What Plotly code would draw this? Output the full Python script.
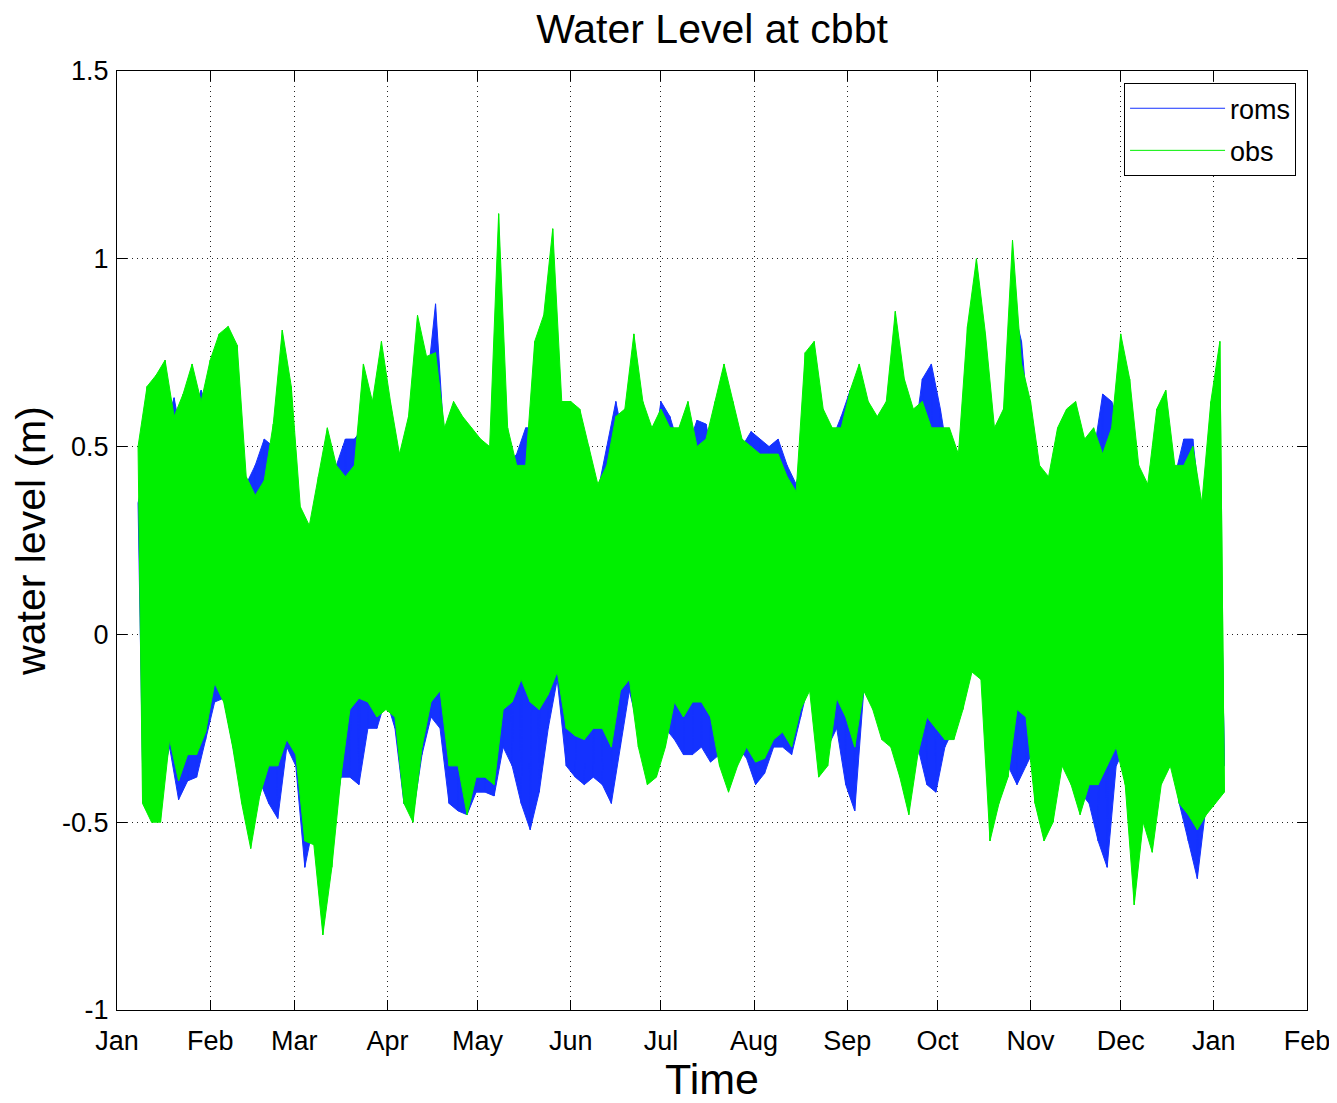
"""Water level at cbbt: model (roms) vs observations, 2010."""

import pandas as pd
import plotly.graph_objects as go

# envelope of the hourly signal, read every 3 days from 8 Jan 2010
start_date = "2010-01-08"
step_days = 3

obs_hi = [
    0.50, 0.66, 0.69, 0.73, 0.58, 0.64, 0.72, 0.62, 0.73, 0.80,
    0.82, 0.77, 0.42, 0.37, 0.41, 0.56, 0.81, 0.66, 0.34, 0.29,
    0.42, 0.55, 0.45, 0.42, 0.45, 0.72, 0.62, 0.78, 0.62, 0.48,
    0.58, 0.85, 0.74, 0.75, 0.55, 0.62, 0.58, 0.55, 0.52, 0.50,
    1.12, 0.55, 0.45, 0.45, 0.78, 0.85, 1.08, 0.62, 0.62, 0.60,
    0.50, 0.40, 0.45, 0.58, 0.60, 0.80, 0.62, 0.55, 0.60, 0.55,
    0.55, 0.62, 0.50, 0.52, 0.62, 0.72, 0.62, 0.52, 0.50, 0.48,
    0.48, 0.48, 0.42, 0.38, 0.75, 0.78, 0.60, 0.55, 0.55, 0.65,
    0.72, 0.62, 0.58, 0.62, 0.86, 0.68, 0.60, 0.62, 0.55, 0.55,
    0.55, 0.48, 0.82, 1.00, 0.80, 0.55, 0.60, 1.05, 0.72, 0.62,
    0.45, 0.42, 0.55, 0.60, 0.62, 0.52, 0.55, 0.48, 0.55, 0.80,
    0.68, 0.45, 0.40, 0.60, 0.65, 0.45, 0.45, 0.50, 0.35, 0.62,
    0.78,
]
obs_lo = [
    -0.45, -0.50, -0.50, -0.28, -0.39, -0.32, -0.32, -0.26, -0.13, -0.18,
    -0.30, -0.45, -0.57, -0.43, -0.35, -0.35, -0.28, -0.32, -0.55, -0.56,
    -0.80, -0.62, -0.38, -0.20, -0.17, -0.18, -0.22, -0.20, -0.22, -0.45,
    -0.50, -0.30, -0.18, -0.15, -0.35, -0.35, -0.48, -0.38, -0.38, -0.40,
    -0.20, -0.18, -0.12, -0.18, -0.20, -0.16, -0.10, -0.25, -0.27, -0.28,
    -0.25, -0.25, -0.30, -0.15, -0.12, -0.30, -0.40, -0.38, -0.30, -0.18,
    -0.22, -0.18, -0.18, -0.22, -0.35, -0.42, -0.35, -0.30, -0.34, -0.33,
    -0.28, -0.26, -0.30, -0.20, -0.15, -0.38, -0.35, -0.17, -0.22, -0.30,
    -0.15, -0.20, -0.28, -0.30, -0.38, -0.48, -0.32, -0.22, -0.25, -0.28,
    -0.28, -0.20, -0.10, -0.12, -0.55, -0.45, -0.38, -0.20, -0.22, -0.45,
    -0.55, -0.50, -0.35, -0.40, -0.48, -0.40, -0.40, -0.35, -0.30, -0.40,
    -0.72, -0.50, -0.58, -0.40, -0.35, -0.45, -0.48, -0.52, -0.48, -0.45,
    -0.42,
]
roms_hi = [
    0.35, 0.45, 0.50, 0.55, 0.63, 0.50, 0.58, 0.65, 0.58, 0.60,
    0.65, 0.55, 0.40, 0.45, 0.52, 0.50, 0.60, 0.55, 0.30, 0.25,
    0.30, 0.40, 0.45, 0.52, 0.52, 0.55, 0.50, 0.55, 0.50, 0.42,
    0.50, 0.60, 0.65, 0.88, 0.50, 0.50, 0.48, 0.45, 0.45, 0.42,
    0.60, 0.45, 0.48, 0.55, 0.55, 0.55, 0.65, 0.50, 0.50, 0.48,
    0.42, 0.38, 0.50, 0.62, 0.50, 0.55, 0.50, 0.45, 0.62, 0.58,
    0.50, 0.50, 0.57, 0.56, 0.45, 0.50, 0.45, 0.50, 0.54, 0.52,
    0.50, 0.52, 0.45, 0.40, 0.50, 0.55, 0.48, 0.52, 0.58, 0.65,
    0.55, 0.45, 0.45, 0.50, 0.60, 0.52, 0.50, 0.68, 0.72, 0.60,
    0.45, 0.40, 0.55, 0.65, 0.55, 0.45, 0.55, 0.88, 0.78, 0.50,
    0.40, 0.38, 0.48, 0.52, 0.55, 0.50, 0.48, 0.64, 0.62, 0.55,
    0.50, 0.40, 0.35, 0.50, 0.50, 0.42, 0.52, 0.52, 0.30, 0.45,
    0.40,
]
roms_lo = [
    -0.35, -0.42, -0.40, -0.30, -0.44, -0.39, -0.38, -0.28, -0.18, -0.17,
    -0.30, -0.42, -0.50, -0.39, -0.45, -0.49, -0.30, -0.35, -0.62, -0.50,
    -0.62, -0.55, -0.38, -0.38, -0.40, -0.25, -0.25, -0.17, -0.25, -0.45,
    -0.48, -0.32, -0.22, -0.25, -0.45, -0.47, -0.48, -0.42, -0.42, -0.43,
    -0.30, -0.35, -0.45, -0.52, -0.42, -0.25, -0.12, -0.35, -0.38, -0.40,
    -0.38, -0.40, -0.45, -0.30, -0.15, -0.25, -0.35, -0.30, -0.25, -0.28,
    -0.32, -0.32, -0.30, -0.34, -0.32, -0.35, -0.30, -0.33, -0.40, -0.37,
    -0.30, -0.30, -0.32, -0.22, -0.12, -0.30, -0.30, -0.25, -0.40, -0.47,
    -0.15, -0.18, -0.25, -0.28, -0.30, -0.38, -0.30, -0.40, -0.42, -0.30,
    -0.25, -0.15, -0.08, -0.10, -0.30, -0.32, -0.35, -0.40, -0.35, -0.30,
    -0.45, -0.40, -0.30, -0.35, -0.42, -0.45, -0.55, -0.62, -0.35, -0.30,
    -0.45, -0.40, -0.42, -0.35, -0.30, -0.45, -0.55, -0.65, -0.45, -0.35,
    -0.35,
]

y_ticks = [-1, -0.5, 0, 0.5, 1, 1.5]
y_labels = ["-1", "-0.5", "0", "0.5", "1", "1.5"]

BLUE = "#1432ff"
GREEN = "#00f000"
FONT = "Liberation Sans, Arial, sans-serif"

hi_times = pd.date_range(start_date, periods=len(obs_hi), freq=f"{step_days}D")
lo_times = hi_times + pd.Timedelta(hours=36)


def add_series(figure, name, hi, lo, color):
    # filled envelope
    figure.add_trace(
        go.Scatter(
            x=list(hi_times) + list(lo_times[::-1]),
            y=hi + lo[::-1],
            mode="lines",
            fill="toself",
            fillcolor=color,
            line={"color": color, "width": 1},
            legendgroup=name,
            showlegend=False,
            hoverinfo="skip",
        )
    )
    # the oscillation itself, high/low alternating
    zig_x, zig_y = [], []
    for t_hi, t_lo, v_hi, v_lo in zip(hi_times, lo_times, hi, lo):
        zig_x += [t_hi, t_lo]
        zig_y += [v_hi, v_lo]
    figure.add_trace(
        go.Scatter(
            x=zig_x,
            y=zig_y,
            mode="lines",
            name=name,
            legendgroup=name,
            line={"color": color, "width": 1},
        )
    )


fig = go.Figure()
add_series(fig, "roms", roms_hi, roms_lo, BLUE)
add_series(fig, "obs", obs_hi, obs_lo, GREEN)

axis_common = dict(
    automargin=False,
    showline=True,
    linecolor="black",
    linewidth=1,
    mirror="ticks",
    ticks="inside",
    ticklen=10,
    tickcolor="black",
    showgrid=True,
    gridcolor="#222222",
    griddash="1px,4px",
    gridwidth=1,
    zeroline=False,
    tickfont={"family": FONT, "size": 27, "color": "black"},
)

fig.update_xaxes(
    type="date",
    range=["2010-01-01", "2011-02-01"],
    tick0="2010-01-01",
    dtick="M1",
    tickformat="%b",
    ticklabelstandoff=7,
    title={"text": "Time", "font": {"family": FONT, "size": 43, "color": "black"}, "standoff": 10},
    **axis_common,
)
fig.update_yaxes(
    range=[-1, 1.5],
    tickvals=y_ticks,
    ticktext=y_labels,
    ticklabelstandoff=2,
    title={"text": "water level (m)", "font": {"family": FONT, "size": 41, "color": "black"}, "standoff": 20},
    **axis_common,
)

# the page adds an 8px body margin, so the figure is 8px smaller
fig.update_layout(
    width=1329,
    height=1095,
    margin={"l": 109, "r": 30, "t": 63, "b": 93},
    paper_bgcolor="white",
    plot_bgcolor="white",
    title={
        "text": "Water Level at cbbt",
        "font": {"family": FONT, "size": 41, "color": "black"},
        "x": 0.5,
        "xref": "paper",
        "y": 1 - 21 / 1095,
        "yanchor": "middle",
    },
    legend={
        "x": 0.9908,
        "y": 0.987,
        "xanchor": "right",
        "yanchor": "top",
        "bgcolor": "white",
        "bordercolor": "black",
        "borderwidth": 1,
        "font": {"family": FONT, "size": 27, "color": "black"},
        "itemwidth": 95,
        "tracegroupgap": 4,
        "traceorder": "grouped",
    },
    showlegend=True,
)

fig.write_html("out.html")
